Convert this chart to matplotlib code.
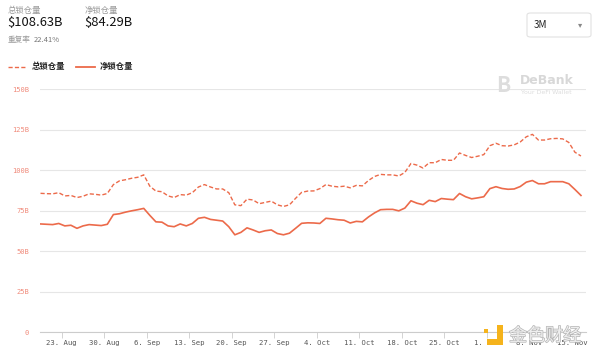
import numpy as np
import pandas as pd
import matplotlib
matplotlib.use("Agg")
import matplotlib.pyplot as plt
import matplotlib.dates as mdates
import matplotlib.patheffects as pe
from matplotlib.patches import FancyBboxPatch, Rectangle

plt.rcParams['font.family'] = ['Noto Sans CJK SC', 'DejaVu Sans']

# 数据 (单位: B 美元), 每日一个点
start_date = "2021-08-19 12:00"
total_locked = [85.6, 85.4, 85.3, 86.0, 84.0, 84.3, 83.0, 83.8, 85.3, 85.0,
                84.5, 85.5, 91.0, 93.3, 94.0, 94.9, 95.5, 97.0, 90.0, 87.0,
                86.6, 84.0, 83.0, 84.8, 84.5, 86.0, 89.5, 91.0, 89.5, 88.3,
                88.3, 86.0, 78.5, 78.0, 82.0, 81.5, 79.2, 80.0, 80.8, 78.5,
                77.5, 78.5, 82.5, 86.2, 87.0, 87.1, 88.5, 91.0, 90.0, 89.6,
                90.0, 89.0, 90.5, 90.2, 93.5, 96.0, 97.3, 97.0, 97.0, 96.3,
                98.5, 104.0, 103.0, 101.2, 104.5, 104.5, 106.5, 106.0, 106.0, 110.5,
                109.0, 107.7, 108.5, 109.5, 115.0, 116.5, 115.0, 114.8, 115.5, 117.3,
                120.5, 122.0, 118.5, 118.5, 119.3, 119.5, 119.2, 117.0, 111.0, 108.63]
net_locked = [66.7, 66.5, 66.3, 67.0, 65.5, 65.9, 64.0, 65.5, 66.3, 66.0,
              65.7, 66.5, 72.5, 73.0, 74.0, 74.8, 75.5, 76.3, 72.0, 68.0,
              67.8, 65.5, 65.0, 66.7, 65.5, 67.0, 70.2, 70.8, 69.5, 69.0,
              68.5, 65.0, 60.0, 61.5, 64.3, 63.0, 61.5, 62.5, 63.0, 60.8,
              60.0, 61.0, 64.0, 67.1, 67.4, 67.3, 67.0, 70.2, 69.8, 69.3,
              69.0, 67.3, 68.3, 68.0, 71.0, 73.5, 75.5, 75.7, 75.7, 74.8,
              76.5, 81.0, 79.5, 78.6, 81.3, 80.5, 82.4, 82.0, 81.7, 85.5,
              83.5, 82.2, 82.8, 83.5, 88.5, 89.7, 88.6, 88.1, 88.3, 89.8,
              92.5, 93.5, 91.5, 91.5, 92.8, 92.8, 92.8, 91.5, 88.0, 84.29]
y_ticks = [0, 25, 50, 75, 100, 125, 150]
y_tick_labels = ["0", "25B", "50B", "75B", "100B", "125B", "150B"]
x_tick_dates = ["2021-08-23", "2021-08-30", "2021-09-06", "2021-09-13", "2021-09-20",
                "2021-09-27", "2021-10-04", "2021-10-11", "2021-10-18", "2021-10-25",
                "2021-11-01", "2021-11-08", "2021-11-15"]

dates = pd.date_range(start_date, periods=len(total_locked), freq="D")

line_color = "#ec6a4a"
fig = plt.figure(figsize=(6, 3.57), dpi=100)
ax = fig.add_axes([0.0667, 0.07, 0.91, 0.6807])

ax.plot(dates, total_locked, color=line_color, lw=1.0, ls=(0, (3, 1.6)))
ax.plot(dates, net_locked, color=line_color, lw=1.2)

ax.set_ylim(0, 150)
ax.set_yticks(y_ticks)
ax.set_yticklabels(y_tick_labels, fontsize=5, color="#f08a7a", family="DejaVu Sans Mono")
ax.set_xlim(dates[0] - pd.Timedelta(hours=2), dates[-1] + pd.Timedelta(hours=20))
ax.set_xticks(pd.to_datetime(x_tick_dates))
ax.xaxis.set_major_formatter(mdates.DateFormatter("%-d. %b"))
ax.tick_params(axis="x", labelsize=5.2, colors="#555555", length=4, width=0.6, pad=2)
ax.tick_params(axis="x", color="#cccccc")
ax.tick_params(axis="y", length=0, pad=8)
for lbl in ax.get_xticklabels():
    lbl.set_family("DejaVu Sans Mono")

ax.grid(axis="y", color="#e6e6e6", lw=0.8)
ax.set_axisbelow(True)
for s in ["top", "right", "left"]:
    ax.spines[s].set_visible(False)
ax.spines["bottom"].set_color("#cccccc")
ax.spines["bottom"].set_linewidth(0.8)

# 头部数值
fig.text(8 / 600, 1 - 11 / 357, "总锁仓量", fontsize=6, color="#999999", va="center")
fig.text(7 / 600, 1 - 23 / 357, "$108.63B", fontsize=9.3, color="#111111", va="center")
fig.text(85 / 600, 1 - 11 / 357, "净锁仓量", fontsize=6, color="#999999", va="center")
fig.text(84 / 600, 1 - 23 / 357, "$84.29B", fontsize=9.3, color="#111111", va="center")
fig.text(8 / 600, 1 - 40 / 357, "重复率", fontsize=5.5, color="#999999", va="center")
fig.text(34 / 600, 1 - 40 / 357, "22.41%", fontsize=5.5, color="#777777", va="center")

# 图例
fig.lines.append(plt.Line2D([8 / 600, 27 / 600], [1 - 67 / 357] * 2, transform=fig.transFigure,
                            color=line_color, lw=1.0, ls=(0, (3, 1.6))))
fig.text(32 / 600, 1 - 67 / 357, "总锁仓量", fontsize=6, color="#222222", va="center", weight="bold")
fig.lines.append(plt.Line2D([76 / 600, 95 / 600], [1 - 67 / 357] * 2, transform=fig.transFigure,
                            color=line_color, lw=1.3))
fig.text(100 / 600, 1 - 67 / 357, "净锁仓量", fontsize=6, color="#222222", va="center", weight="bold")

# 3M 下拉框
box = FancyBboxPatch((527 / 600, 1 - 37 / 357), 64 / 600, 24 / 357, transform=fig.transFigure,
                     boxstyle="round,pad=0,rounding_size=0.006", fc="white", ec="#e2e2e2", lw=0.8)
fig.patches.append(box)
fig.text(534 / 600, 1 - 25 / 357, "3M", fontsize=7, color="#222222", va="center")
fig.text(580 / 600, 1 - 25 / 357, "▾", fontsize=6, color="#888888", va="center", ha="center",
         family="DejaVu Sans")

# DeBank 水印
fig.text(503 / 600, 1 - 85 / 357, "B", fontsize=15, color="#dddddd", va="center", ha="center", weight="bold")
fig.text(520 / 600, 1 - 80 / 357, "DeBank", fontsize=9, color="#d8d8d8", va="center", weight="bold",
         family="DejaVu Sans")
fig.text(521 / 600, 1 - 93 / 357, "Your DeFi Wallet", fontsize=4.5, color="#dddddd", va="center",
         family="DejaVu Sans")

# 金色财经 水印
for (x0, y0, w, h) in [(497, 345, 6, 20), (487, 345, 16, 6), (484, 333, 4, 4)]:
    fig.patches.append(Rectangle((x0 / 600, 1 - y0 / 357), w / 600, h / 357,
                                 transform=fig.transFigure, fc="#f5b31c", ec="none", zorder=5))
fig.text(509 / 600, 1 - 336 / 357, "金色财经", fontsize=13, color="#eeeeee", va="center", zorder=5,
         path_effects=[pe.withStroke(linewidth=1, foreground="#b5b5b5")])

fig.savefig("out.png", dpi=100, facecolor="white")
